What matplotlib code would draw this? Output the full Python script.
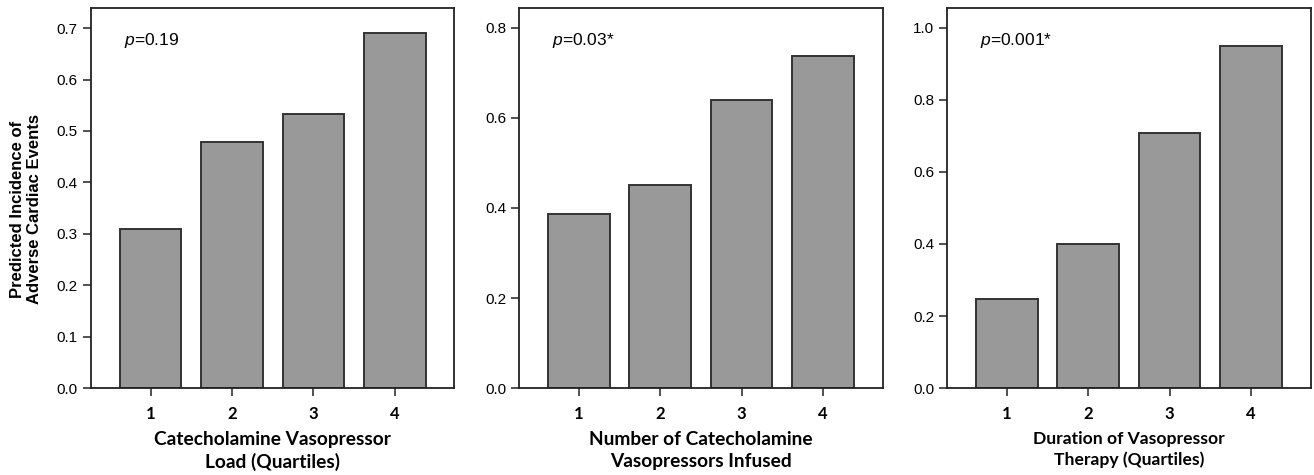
import matplotlib
matplotlib.use("Agg")
import matplotlib.pyplot as plt

# quartile / group labels on each x axis
groups = ["1", "2", "3", "4"]

# predicted incidence
load_vals = [0.309, 0.479, 0.533, 0.690]
number_vals = [0.386, 0.450, 0.639, 0.738]
duration_vals = [0.247, 0.399, 0.707, 0.950]

p_texts = ["0.19", "0.03*", "0.001*"]
xlabels = ["Catecholamine Vasopressor\nLoad (Quartiles)",
           "Number of Catecholamine\nVasopressors Infused",
           "Duration of Vasopressor\nTherapy (Quartiles)"]
ylabel = "Predicted Incidence of\nAdverse Cardiac Events"

yticks_list = [[0.0, 0.1, 0.2, 0.3, 0.4, 0.5, 0.6, 0.7],
               [0.0, 0.2, 0.4, 0.6, 0.8],
               [0.0, 0.2, 0.4, 0.6, 0.8, 1.0]]
ytops = [0.739, 0.844, 1.055]

plt.rcParams['font.family'] = ['Liberation Sans', 'DejaVu Sans']
plt.rcParams['mathtext.fontset'] = 'custom'
plt.rcParams['mathtext.rm'] = 'Liberation Sans'
plt.rcParams['mathtext.it'] = 'Liberation Sans:italic'

fig = plt.figure(figsize=(13.14, 4.75), dpi=100)

lefts = [0.0693, 0.3952, 0.7209]
width = 0.2765
bottom = 0.183
height = 0.800
xlabel_sizes = [13.8, 13.8, 12.6]

all_vals = [load_vals, number_vals, duration_vals]
for i, vals in enumerate(all_vals):
    ax = fig.add_axes([lefts[i], bottom, width, height])
    xs = list(range(1, len(groups) + 1))
    ax.bar(xs, vals, width=0.756, color='#999999', edgecolor='#333333', linewidth=1.4)
    ax.set_xlim(0.27, 4.73)
    ax.set_ylim(0, ytops[i])
    ax.set_xticks(xs)
    ax.set_xticklabels(groups, fontsize=12, fontweight='bold', family='Lato')
    ax.set_yticks(yticks_list[i])
    ax.set_yticklabels(["%.1f" % t for t in yticks_list[i]], fontsize=11)
    ax.tick_params(direction='out', length=6, width=1.2, color='#333333')
    ax.tick_params(axis='x', pad=7)
    for sp in ax.spines.values():
        sp.set_linewidth(1.3)
        sp.set_color('#222222')
    ax.text(0.09, 0.915, r'$\it{p}$=' + p_texts[i], transform=ax.transAxes,
            fontsize=12.5, va='center', ha='left')
    ax.set_xlabel(xlabels[i], fontsize=xlabel_sizes[i], family='Lato', fontweight='bold',
                  linespacing=1.35, va='top')
    ax.xaxis.set_label_coords(0.5, -0.112)
    if i == 0:
        ax.set_ylabel(ylabel, fontsize=12, fontweight='bold', va='center', linespacing=1.15)
        ax.yaxis.set_label_coords(-0.18, 0.47)

fig.savefig("out.png", dpi=100)
